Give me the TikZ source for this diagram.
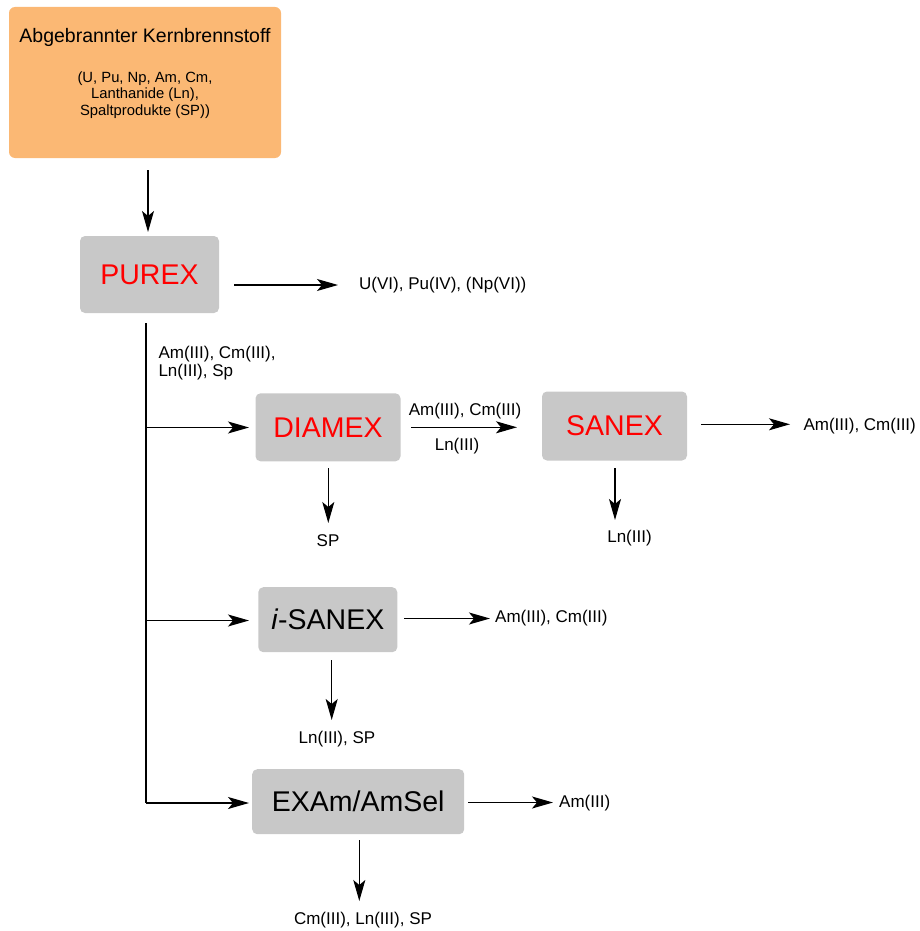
\documentclass[tikz,border=0pt]{standalone}
\usepackage{fontspec}
\setmainfont{Liberation Sans}
\usetikzlibrary{arrows.meta}
\definecolor{fuelorange}{HTML}{FBB874}
\definecolor{procgray}{HTML}{C8C8C8}
\definecolor{procred}{HTML}{FF0000}
\begin{document}
\begin{tikzpicture}[x=1pt,y=-1pt,
  proc/.style={fill=procgray, rounded corners=5pt, inner sep=0pt,
    font=\fontsize{28.5}{31}\selectfont},
  redtxt/.style={text=procred},
  lbl/.style={font=\fontsize{17}{19}\selectfont, inner sep=0pt},
  wire/.style={line width=1.2pt},
  arr/.style={line width=1.2pt, -{Stealth[length=21pt,width=12pt,inset=5pt]}}]
\useasboundingbox (0,0) rectangle (919,931);

% starting material
\node[fill=fuelorange, rounded corners=6pt, minimum width=272pt, minimum height=151pt, inner sep=0pt]
  (fuel) at (145,82.5) {};
\node[anchor=base, inner sep=0pt, font=\fontsize{19.5}{22}\selectfont] (fueltitle) at (145,43) {Abgebrannter Kernbrennstoff};
\node[anchor=north, inner sep=0pt, align=center, font=\fontsize{14.8}{16.3}\selectfont] (fuelsub) at (145,71.5)
  {(U, Pu, Np, Am, Cm,\\Lanthanide (Ln),\\Spaltprodukte (SP))};

% process boxes
\node[proc, redtxt, minimum width=139pt, minimum height=77pt] (purex) at (149.5,274.5) {PUREX};
\node[proc, redtxt, minimum width=145pt, minimum height=68pt] (diamex) at (328,427.3) {DIAMEX};
\node[proc, redtxt, minimum width=145pt, minimum height=69pt] (sanex) at (614.5,426) {SANEX};
\node[proc, minimum width=139pt, minimum height=65pt] (isanex) at (327.8,619.7) {\textit{i}-SANEX};
\node[proc, minimum width=212pt, minimum height=65pt] (examsel) at (358.2,801.7) {EXAm/AmSel};

% product labels
\node[lbl, anchor=west] (purexout) at (359,285) {U(VI), Pu(IV), (Np(VI))};
\node[lbl, anchor=north west, align=left, font=\fontsize{17}{18.5}\selectfont] (raffinate) at (158.3,345.5)
  {Am(III), Cm(III),\\Ln(III), Sp};
\node[lbl, anchor=south] (diamexan) at (465,419) {Am(III), Cm(III)};
\node[lbl] (diamexln) at (457,446.5) {Ln(III)};
\node[lbl] (diamexsp) at (328,541) {SP};
\node[lbl, anchor=west] (sanexout) at (803.3,426.5) {Am(III), Cm(III)};
\node[lbl] (sanexln) at (629.5,538.5) {Ln(III)};
\node[lbl, anchor=west] (isanexout) at (495,618) {Am(III), Cm(III)};
\node[lbl] (isanexln) at (337,739) {Ln(III), SP};
\node[lbl, anchor=west] (examout) at (559,803) {Am(III)};
\node[lbl] (examrest) at (363,920) {Cm(III), Ln(III), SP};

% connector end points
\coordinate (feedtop) at (148,170);
\coordinate (feedend) at (148,232);
\coordinate (trunktop) at (146,323);
\coordinate (branchD) at (146,427.5);
\coordinate (branchI) at (146,620.5);
\coordinate (branchE) at (146,803);

% connectors
\draw[arr] (feedtop) -- (feedend);
\draw[arr] (234,285) -- (338,285);
\draw[wire] (trunktop) -- (branchE);
\draw[arr] (branchD) -- (249,427.5);
\draw[arr] (branchI) -- (249,620.5);
\draw[arr] (branchE) -- (249,803);
\draw[arr] (411,427.3) -- (517,427.3);
\draw[arr] (328.3,468) -- (328.3,523);
\draw[arr] (701,424.3) -- (790,424.3);
\draw[arr] (615,468) -- (615,520);
\draw[arr] (404,618.5) -- (490,618.5);
\draw[arr] (331.7,660) -- (331.7,720);
\draw[arr] (468.3,802.5) -- (553,802.5);
\draw[arr] (359.3,840) -- (359.3,901);
\end{tikzpicture}
\end{document}
